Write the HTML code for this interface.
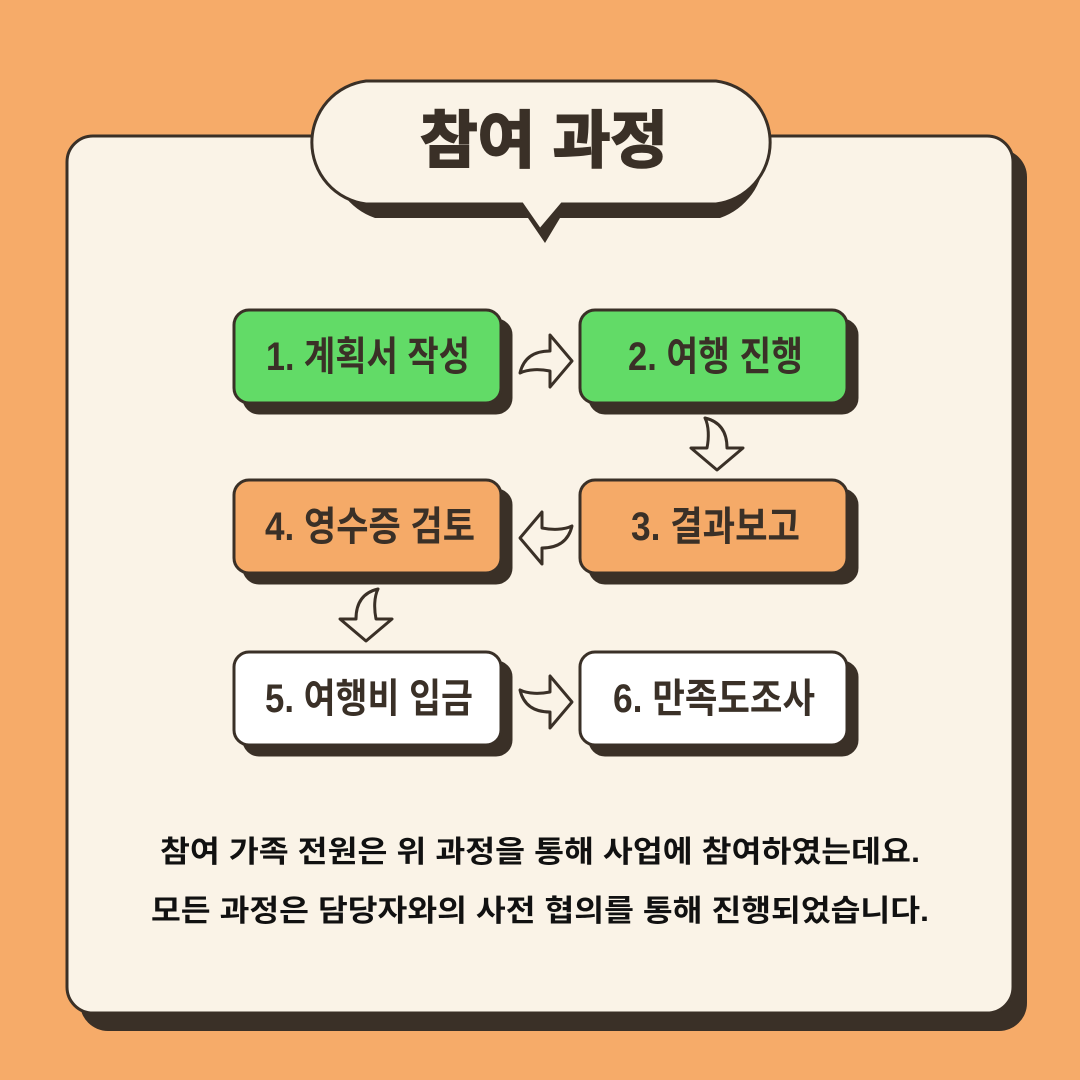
<!DOCTYPE html>
<html><head><meta charset="utf-8"><style>
html,body{margin:0;padding:0;background:#F6AB69;}
svg{display:block}
text{font-family:"Liberation Sans","Noto Sans CJK KR","NanumGothic",sans-serif;font-weight:bold;fill:#3A3027}
</style></head><body>
<svg width="1080" height="1080" viewBox="0 0 1080 1080" xmlns="http://www.w3.org/2000/svg">
<defs>
<path id="arr" d="M-26,12 C-22,-5 -10,-10 4,-10 L4,-26 L26,0 L4,26 L4,10 C-6,8 -18,8 -26,12 Z" fill="#FAF3E7" stroke="#3A3027" stroke-width="3" stroke-linejoin="round"/>
</defs>
<rect width="1080" height="1080" fill="#F6AB69"/>
<rect x="80" y="149" width="947" height="882" rx="28" fill="#3A3027"/>
<rect x="67" y="136" width="946" height="877" rx="26" fill="#FAF3E7" stroke="#3A3027" stroke-width="3"/>
<path d="M375,95 H720 A65,65 0 0 1 720,218 H560 L545,243 L528,218 H375 A65,65 0 0 1 375,95 Z" fill="#3A3027"/>
<path d="M366,81 H716 A62,62 0 0 1 716,204 H562 L540,230 L522,204 H366 A62,62 0 0 1 366,81 Z" fill="#FAF3E7" stroke="#3A3027" stroke-width="3"/>
<text x="544" y="162" font-size="62" text-anchor="middle" textLength="248" lengthAdjust="spacingAndGlyphs" stroke="#3A3027" stroke-width="2">참여 과정</text>
<g stroke="#3A3027" stroke-width="3">
<rect x="244" y="320" width="267" height="93" rx="15" fill="#3A3027"/>
<rect x="234" y="310" width="267" height="93" rx="15" fill="#62DB67"/>
<rect x="590" y="320" width="267" height="93" rx="15" fill="#3A3027"/>
<rect x="580" y="310" width="267" height="93" rx="15" fill="#62DB67"/>
<rect x="244" y="490" width="267" height="93" rx="15" fill="#3A3027"/>
<rect x="234" y="480" width="267" height="93" rx="15" fill="#F5AA68"/>
<rect x="590" y="490" width="267" height="93" rx="15" fill="#3A3027"/>
<rect x="580" y="480" width="267" height="93" rx="15" fill="#F5AA68"/>
<rect x="244" y="662" width="267" height="93" rx="15" fill="#3A3027"/>
<rect x="234" y="652" width="267" height="93" rx="15" fill="#FFFFFF"/>
<rect x="590" y="662" width="267" height="93" rx="15" fill="#3A3027"/>
<rect x="580" y="652" width="267" height="93" rx="15" fill="#FFFFFF"/>
</g>
<g font-size="40">
<text x="266" y="370" textLength="204" lengthAdjust="spacingAndGlyphs">1. 계획서 작성</text>
<text x="628" y="370" textLength="175" lengthAdjust="spacingAndGlyphs">2. 여행 진행</text>
<text x="631" y="540" textLength="169" lengthAdjust="spacingAndGlyphs">3. 결과보고</text>
<text x="265" y="540" textLength="210" lengthAdjust="spacingAndGlyphs">4. 영수증 검토</text>
<text x="265" y="712" textLength="208" lengthAdjust="spacingAndGlyphs">5. 여행비 입금</text>
<text x="613" y="712" textLength="202" lengthAdjust="spacingAndGlyphs">6. 만족도조사</text>
</g>
<use href="#arr" transform="translate(546,361)"/>
<use href="#arr" transform="translate(717,444) rotate(90)"/>
<use href="#arr" transform="translate(546,538) rotate(180)"/>
<use href="#arr" transform="translate(366,615) scale(-1,1) rotate(90)"/>
<use href="#arr" transform="translate(546,702) scale(1,-1)"/>
<text x="540" y="862" font-size="30" text-anchor="middle" style="fill:#111" textLength="760" lengthAdjust="spacingAndGlyphs">참여 가족 전원은 위 과정을 통해 사업에 참여하였는데요.</text>
<text x="540" y="921" font-size="30" text-anchor="middle" style="fill:#111" textLength="778" lengthAdjust="spacingAndGlyphs">모든 과정은 담당자와의 사전 협의를 통해 진행되었습니다.</text>
</svg>
</body></html>
